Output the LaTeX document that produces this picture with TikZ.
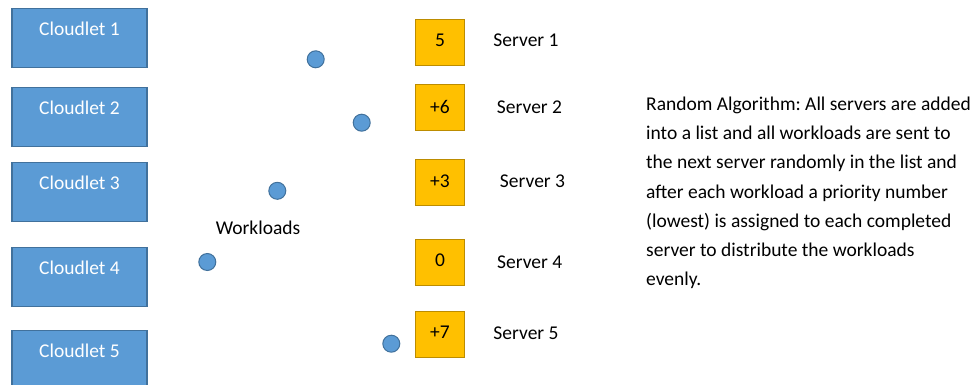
\documentclass[tikz,border=0pt]{standalone}
\usepackage{fontspec}
\setmainfont{Carlito}
\frenchspacing
\definecolor{cloudfill}{HTML}{5B9BD5}
\definecolor{cloudedge}{HTML}{41719C}
\definecolor{srvfill}{HTML}{FFC000}
\definecolor{srvedge}{HTML}{BC8C00}
\begin{document}
\begin{tikzpicture}[x=1pt,y=-1pt,
  cloudbox/.style={draw=cloudedge,fill=cloudfill,line width=1.3pt,minimum width=135pt,minimum height=59pt,inner sep=0pt},
  cloudtxt/.style={text=white,font=\fontsize{19.5}{22}\selectfont,inner sep=0pt},
  srvbox/.style={draw=srvedge,fill=srvfill,line width=1.3pt,minimum width=49pt,minimum height=46pt,inner sep=0pt},
  srvnum/.style={font=\fontsize{19.5}{22}\selectfont,inner sep=0pt},
  srvname/.style={font=\fontsize{19.5}{22}\selectfont,inner sep=0pt},
  work/.style={circle,draw=cloudedge,fill=cloudfill,line width=1pt,minimum size=17pt,inner sep=0pt},
  plain/.style={font=\fontsize{19.5}{22}\selectfont,inner sep=0pt}]
\useasboundingbox (0,0) rectangle (977,385);

% cloudlets, label near the top edge of each box
\foreach \i/\y in {1/37.8,2/116.7,3/191.7,4/277,5/359.7}{
  \node[cloudbox] (c\i) at (79.5,\y) {};
  \node[cloudtxt] (ct\i) at ([yshift=-21pt]c\i.north) {Cloudlet \i};
}

% workloads in transit
\node[work] (w1) at (315.7,59.3) {};
\node[work] (w2) at (361.7,122.7) {};
\node[work] (w3) at (277.3,190.8) {};
\node[work] (w4) at (207.3,262) {};
\node[work] (w5) at (391.3,343.7) {};
\node[plain] (wl) at (258,228) {Workloads};

% servers with their priority numbers
\node[srvbox] (s1) at (439.7,42.3) {};
\node[srvbox] (s2) at (439.7,107.5) {};
\node[srvbox] (s3) at (439.7,182.2) {};
\node[srvbox] (s4) at (439.7,262.2) {};
\node[srvbox] (s5) at (439.7,334.2) {};
\node[srvnum] at (440,40.5) {5};
\node[srvnum] at (440,106.7) {+6};
\node[srvnum] at (440,181) {+3};
\node[srvnum] at (440,260.5) {0};
\node[srvnum] at (440,332.3) {+7};

\node[srvname] (n1) at (526,40.7) {Server 1};
\node[srvname] (n2) at (529.5,107) {Server 2};
\node[srvname] (n3) at (532.5,181.7) {Server 3};
\node[srvname] (n4) at (529.7,262.3) {Server 4};
\node[srvname] (n5) at (526,333.3) {Server 5};

% description
\node[anchor=north west,align=left,inner sep=0pt,font=\fontsize{19.5}{29.1}\selectfont] (desc) at (646,97)
{Random Algorithm: All servers are added\\
into a list and all workloads are sent to\\
the next server randomly in the list and\\
after each workload a priority number\\
(lowest) is assigned to each completed\\
server to distribute the workloads\\
evenly.};
\end{tikzpicture}
\end{document}
